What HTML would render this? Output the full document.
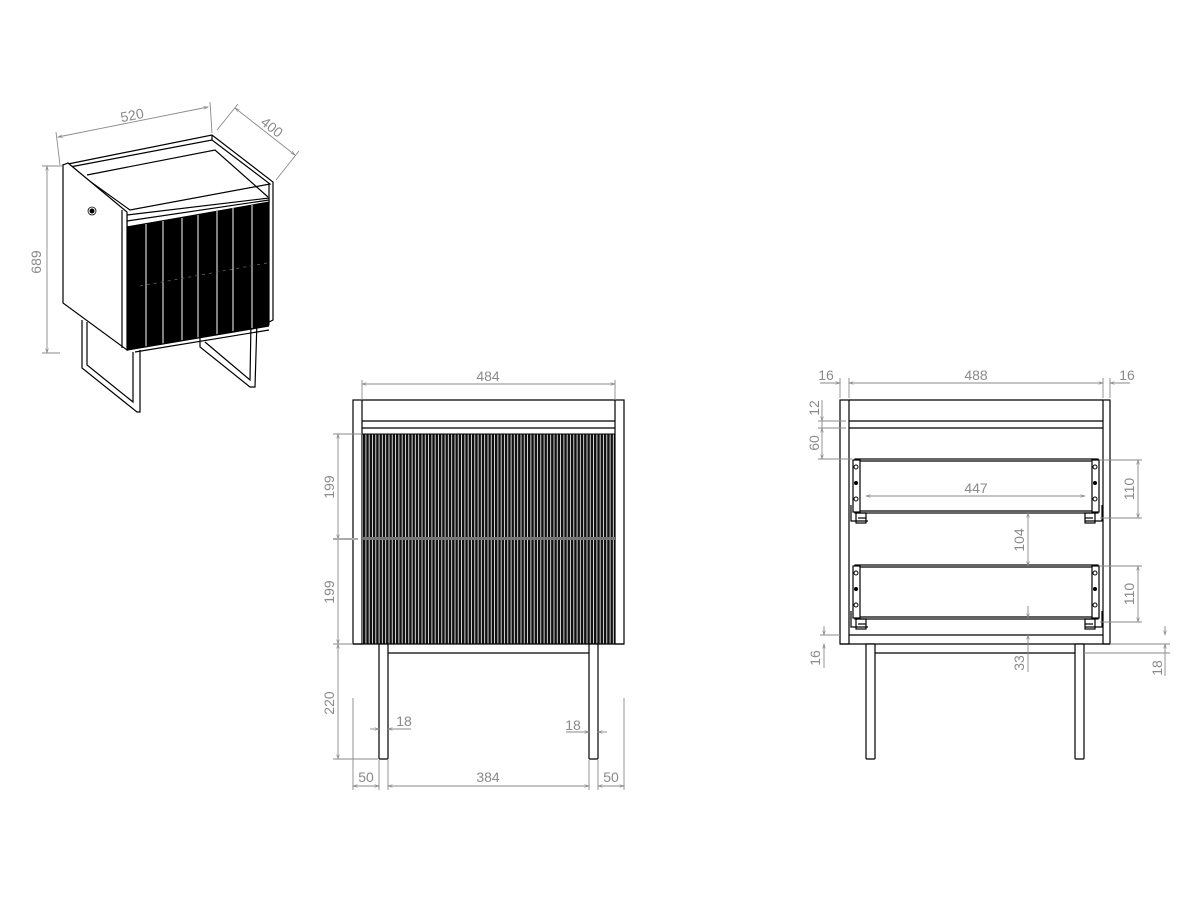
<!DOCTYPE html>
<html><head><meta charset="utf-8"><style>
html,body{margin:0;padding:0;background:#fff;}
svg{display:block;}
.o{fill:none;stroke:#000;stroke-width:1.2;}
.w{fill:#fff;stroke:#000;stroke-width:1.2;}
.d{stroke:#8a8a8a;stroke-width:0.9;fill:none;}
.t{font-family:"Liberation Sans",sans-serif;font-size:14px;fill:#8a8a8a;text-anchor:middle;}
</style></head><body>
<svg width="1200" height="900" viewBox="0 0 1200 900" xmlns="http://www.w3.org/2000/svg">
<defs>
<pattern id="fl" x="363" y="0" width="3.3" height="10" patternUnits="userSpaceOnUse">
<rect width="3.3" height="10" fill="#fff"/><rect width="2.5" height="10" fill="#111"/>
</pattern>
<marker id="a" viewBox="0 0 10 10" refX="10" refY="5" markerWidth="7" markerHeight="5" orient="auto-start-reverse"><path d="M0,2 L10,5 L0,8" fill="none" stroke="#8a8a8a" stroke-width="1.3"/></marker>
</defs>

<!-- ============ ISOMETRIC ============ -->
<polyline class="o" points="82,320 82,368 137,412 140,412 140,350"/>
<polyline class="o" points="87,322 87,365 133,402 133,352"/>
<polyline class="o" points="200,338 200,347 250,387 255,387 257,320"/>
<polyline class="o" points="205,342 250,380 251,322"/>
<polygon class="w" points="63,165 212,135 273,182 273,320 269,322 127,222"/>
<polygon class="w" points="70,167 212,140 270,184 130,210"/>
<polyline class="o" points="87,175 215,150 268,197"/>
<line class="o" x1="212" y1="135" x2="212" y2="140"/>
<line class="o" x1="269" y1="183" x2="269" y2="322"/>
<polygon class="w" points="127,215 269,198 269,203 127,227"/>
<line class="o" x1="127" y1="221" x2="269" y2="200"/>
<polygon fill="#000" stroke="#000" points="127,227 269,202 269,325 127,350"/>
<g stroke="#fff" stroke-width="1">
<line x1="146" y1="224" x2="146" y2="347"/><line x1="163" y1="221" x2="163" y2="344"/>
<line x1="182" y1="218" x2="182" y2="340"/><line x1="198" y1="215" x2="198" y2="338"/>
<line x1="217" y1="211" x2="217" y2="334"/><line x1="233" y1="208" x2="233" y2="331"/>
<line x1="252" y1="205" x2="252" y2="328"/>
</g>
<line stroke="#666" stroke-width="0.8" stroke-dasharray="3,4" x1="140" y1="286" x2="267" y2="263"/>
<line class="o" x1="127" y1="350" x2="269" y2="326"/>
<line class="o" x1="135" y1="352" x2="269" y2="330"/>
<polygon class="w" points="63,165 68,163 127,212 127,350 63,303"/>
<line class="o" x1="122" y1="210" x2="122" y2="348"/>
<circle cx="92" cy="211" r="2.5" fill="#000"/>
<circle cx="92" cy="211" r="4" fill="none" stroke="#000" stroke-width="0.8"/>
<line class="d" x1="58" y1="137" x2="208" y2="107" marker-start="url(#a)" marker-end="url(#a)"/>
<line class="d" x1="60" y1="165" x2="56" y2="132"/>
<line class="d" x1="212" y1="133" x2="210" y2="102"/>
<text class="t" x="133" y="120" transform="rotate(-11 133 120)">520</text>
<line class="d" x1="235" y1="108" x2="295" y2="155" marker-start="url(#a)" marker-end="url(#a)"/>
<line class="d" x1="217" y1="130" x2="238" y2="104"/>
<line class="d" x1="276" y1="180" x2="299" y2="151"/>
<text class="t" x="269" y="131" transform="rotate(38 269 131)">400</text>
<line class="d" x1="47" y1="166" x2="47" y2="353" marker-start="url(#a)" marker-end="url(#a)"/>
<line class="d" x1="42" y1="166" x2="63" y2="166"/>
<line class="d" x1="42" y1="353" x2="60" y2="353"/>
<text class="t" x="41" y="262" transform="rotate(-90 41 262)">689</text>

<!-- ============ FRONT VIEW ============ -->
<rect class="w" x="353" y="400" width="9" height="244"/>
<rect class="w" x="615" y="400" width="9" height="244"/>
<line class="o" x1="362" y1="400" x2="615" y2="400"/>
<line class="o" x1="362" y1="421" x2="615" y2="421"/>
<line class="o" x1="362" y1="428" x2="615" y2="428"/>
<rect x="362" y="434" width="253" height="210" fill="url(#fl)" stroke="#000" stroke-width="1"/>
<rect x="362" y="537" width="253" height="3" fill="#777"/>
<line class="o" x1="353" y1="644" x2="624" y2="644"/>
<rect class="w" x="379" y="644" width="9" height="115" rx="1"/>
<rect class="w" x="589" y="644" width="9" height="115" rx="1"/>
<line class="o" x1="388" y1="653" x2="589" y2="653"/>
<line class="d" x1="362" y1="384" x2="615" y2="384" marker-start="url(#a)" marker-end="url(#a)"/>
<line class="d" x1="362" y1="380" x2="362" y2="400"/><line class="d" x1="615" y1="380" x2="615" y2="400"/>
<text class="t" x="488" y="381">484</text>
<line class="d" x1="338" y1="434" x2="338" y2="539" marker-start="url(#a)" marker-end="url(#a)"/>
<line class="d" x1="338" y1="539" x2="338" y2="644" marker-end="url(#a)"/>
<line class="d" x1="338" y1="644" x2="338" y2="759" marker-start="url(#a)" marker-end="url(#a)"/>
<line class="d" x1="333" y1="434" x2="362" y2="434"/>
<line stroke="#aaa" stroke-width="2" x1="333" y1="539" x2="358" y2="539"/>
<line class="d" x1="333" y1="644" x2="353" y2="644"/>
<line class="d" x1="333" y1="759" x2="378" y2="759"/>
<text class="t" x="334" y="487" transform="rotate(-90 334 487)">199</text>
<text class="t" x="334" y="592" transform="rotate(-90 334 592)">199</text>
<text class="t" x="334" y="703" transform="rotate(-90 334 703)">220</text>
<line class="d" x1="370" y1="729" x2="379" y2="729" marker-end="url(#a)"/>
<line class="d" x1="388" y1="729" x2="411" y2="729" marker-start="url(#a)"/>
<text class="t" x="404" y="726">18</text>
<line class="d" x1="566" y1="732" x2="589" y2="732" marker-end="url(#a)"/>
<line class="d" x1="598" y1="732" x2="607" y2="732" marker-start="url(#a)"/>
<text class="t" x="573" y="730">18</text>
<line class="d" x1="353" y1="698" x2="353" y2="790"/>
<line class="d" x1="379" y1="760" x2="379" y2="790"/>
<line class="d" x1="388" y1="760" x2="388" y2="790"/>
<line class="d" x1="589" y1="760" x2="589" y2="790"/>
<line class="d" x1="598" y1="760" x2="598" y2="790"/>
<line class="d" x1="624" y1="698" x2="624" y2="790"/>
<line class="d" x1="353" y1="786" x2="379" y2="786" marker-start="url(#a)" marker-end="url(#a)"/>
<line class="d" x1="388" y1="786" x2="589" y2="786" marker-start="url(#a)" marker-end="url(#a)"/>
<line class="d" x1="598" y1="786" x2="624" y2="786" marker-start="url(#a)" marker-end="url(#a)"/>
<text class="t" x="366" y="782">50</text>
<text class="t" x="488" y="782">384</text>
<text class="t" x="611" y="782">50</text>

<!-- ============ SIDE / SECTION VIEW ============ -->
<rect class="w" x="840" y="400" width="9" height="244"/>
<rect class="w" x="1103" y="400" width="7" height="244"/>
<line class="o" x1="849" y1="400" x2="1103" y2="400"/>
<line class="o" x1="849" y1="421" x2="1103" y2="421"/>
<line class="o" x1="849" y1="428" x2="1103" y2="428"/>
<line class="o" x1="849" y1="635" x2="1103" y2="635"/>
<line class="o" x1="840" y1="644" x2="1110" y2="644"/>
<rect class="w" x="866" y="644" width="9" height="115" rx="1"/>
<rect class="w" x="1075" y="644" width="9" height="115" rx="1"/>
<line class="o" x1="875" y1="653" x2="1075" y2="653"/>
<g id="dr">
<rect class="o" x="855" y="459" width="243" height="54"/>
<line class="o" x1="860" y1="461" x2="1092" y2="461"/>
<line class="o" x1="860" y1="511" x2="1092" y2="511"/>
<rect class="w" x="853" y="460" width="7" height="52"/>
<rect class="w" x="1092" y="460" width="7" height="52"/>
<circle cx="856" cy="467" r="2" fill="none" stroke="#000"/>
<circle cx="856" cy="483" r="2" fill="#000"/>
<circle cx="856" cy="499" r="2" fill="none" stroke="#000"/>
<circle cx="1095" cy="467" r="2" fill="none" stroke="#000"/>
<circle cx="1095" cy="483" r="2" fill="#000"/>
<circle cx="1095" cy="499" r="2" fill="none" stroke="#000"/>
<polyline class="o" points="851,505 851,521 868,521"/>
<polyline class="o" points="1102,505 1102,521 1085,521"/>
<rect class="o" x="856" y="513" width="10" height="10"/>
<rect class="o" x="1085" y="513" width="10" height="10"/>
<line class="o" x1="858" y1="518" x2="866" y2="518"/><line class="o" x1="1085" y1="518" x2="1093" y2="518"/>
</g>
<use href="#dr" transform="translate(0,106)"/>
<line class="d" x1="849" y1="383" x2="1103" y2="383" marker-start="url(#a)" marker-end="url(#a)"/>
<line class="d" x1="820" y1="383" x2="840" y2="383" marker-end="url(#a)"/>
<line class="d" x1="1110" y1="383" x2="1130" y2="383" marker-start="url(#a)"/>
<line class="d" x1="840" y1="378" x2="840" y2="398"/><line class="d" x1="849" y1="378" x2="849" y2="398"/>
<line class="d" x1="1103" y1="378" x2="1103" y2="398"/><line class="d" x1="1110" y1="378" x2="1110" y2="398"/>
<text class="t" x="826" y="380">16</text>
<text class="t" x="976" y="380">488</text>
<text class="t" x="1127" y="380">16</text>
<line class="d" x1="822" y1="400" x2="822" y2="421" marker-end="url(#a)"/>
<line class="d" x1="822" y1="421" x2="822" y2="428"/>
<line class="d" x1="822" y1="428" x2="822" y2="459" marker-start="url(#a)" marker-end="url(#a)"/>
<line class="d" x1="818" y1="421" x2="846" y2="421"/>
<line class="d" x1="818" y1="428" x2="846" y2="428"/>
<line class="d" x1="818" y1="459" x2="852" y2="459"/>
<text class="t" x="819" y="408" transform="rotate(-90 819 408)">12</text>
<text class="t" x="819" y="443" transform="rotate(-90 819 443)">60</text>
<line class="d" x1="824" y1="626" x2="824" y2="635" marker-end="url(#a)"/>
<line class="d" x1="824" y1="644" x2="824" y2="668" marker-start="url(#a)"/>
<line class="d" x1="820" y1="635" x2="840" y2="635"/>
<text class="t" x="820" y="658" transform="rotate(-90 820 658)">16</text>
<line class="d" x1="1138" y1="460" x2="1138" y2="518" marker-start="url(#a)" marker-end="url(#a)"/>
<line class="d" x1="1138" y1="566" x2="1138" y2="622" marker-start="url(#a)" marker-end="url(#a)"/>
<line class="d" x1="1100" y1="460" x2="1142" y2="460"/>
<line class="d" x1="1100" y1="518" x2="1142" y2="518"/>
<line class="d" x1="1100" y1="566" x2="1142" y2="566"/>
<line class="d" x1="1100" y1="622" x2="1142" y2="622"/>
<text class="t" x="1134" y="489" transform="rotate(-90 1134 489)">110</text>
<text class="t" x="1134" y="594" transform="rotate(-90 1134 594)">110</text>
<line class="d" x1="866" y1="496" x2="1085" y2="496" marker-start="url(#a)" marker-end="url(#a)"/>
<text class="t" x="976" y="493">447</text>
<line class="d" x1="1028" y1="513" x2="1028" y2="566" marker-start="url(#a)" marker-end="url(#a)"/>
<text class="t" x="1024" y="540" transform="rotate(-90 1024 540)">104</text>
<line class="d" x1="1028" y1="606" x2="1028" y2="618" marker-end="url(#a)"/>
<line class="d" x1="1028" y1="635" x2="1028" y2="672" marker-start="url(#a)"/>
<text class="t" x="1024" y="663" transform="rotate(-90 1024 663)">33</text>
<line class="d" x1="1165" y1="626" x2="1165" y2="635" marker-end="url(#a)"/>
<line class="d" x1="1165" y1="644" x2="1165" y2="676" marker-start="url(#a)"/>
<line class="d" x1="1110" y1="644" x2="1170" y2="644"/>
<line class="d" x1="1084" y1="653" x2="1170" y2="653"/>
<text class="t" x="1162" y="668" transform="rotate(-90 1162 668)">18</text>
</svg>
</body></html>
